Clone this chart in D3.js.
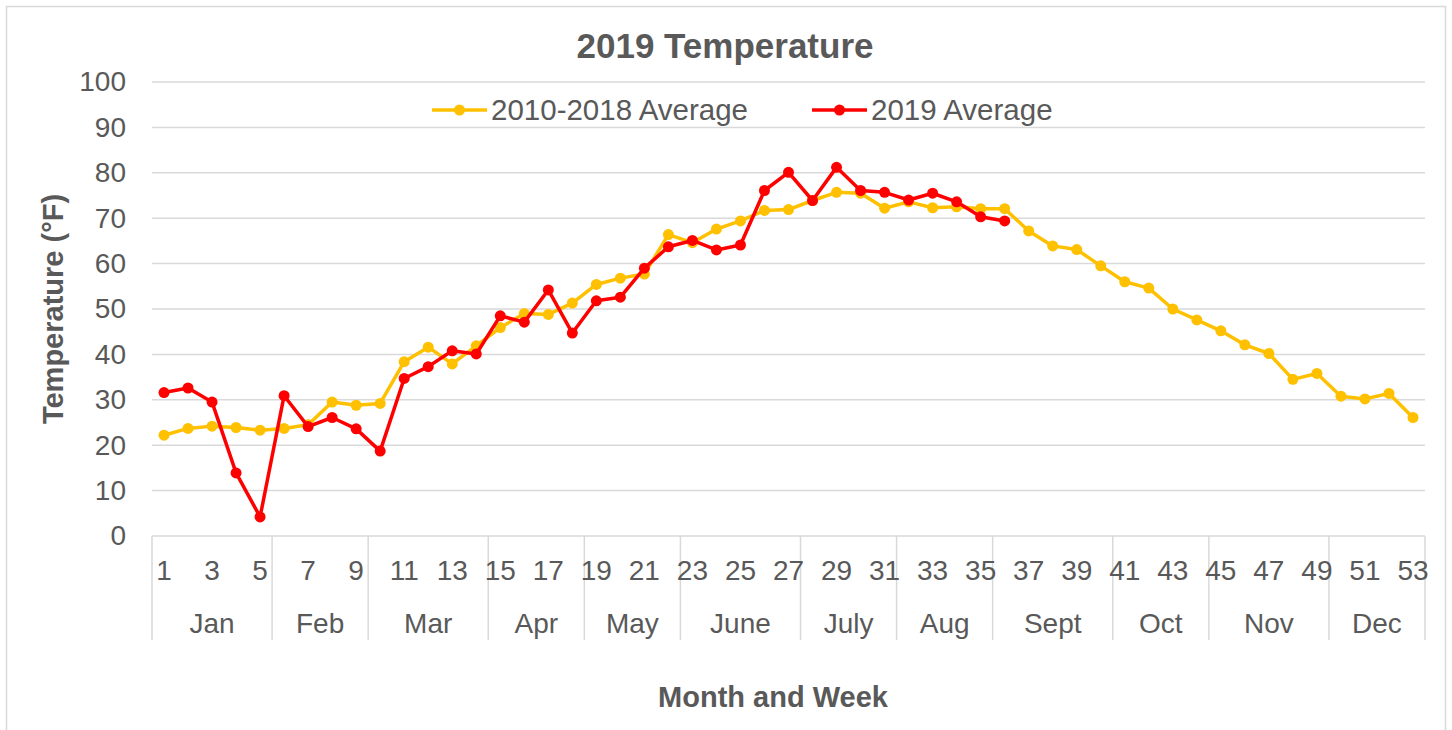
<!DOCTYPE html>
<html>
<head>
<meta charset="utf-8">
<script src="https://cdn.jsdelivr.net/npm/d3@7"></script>
<style>
  body { margin: 0; background: #fff; }
  text { font-family: "Liberation Sans", Arial, sans-serif; fill: #595959; }
</style>
</head>
<body>
<svg id="viz"></svg>
<script>
let width = 1452;
let height = 730;

// week numbers 1..53
let weeks = d3.range(1, 54);

// month groups and how many weeks each one spans
let months = ["Jan", "Feb", "Mar", "Apr", "May", "June", "July", "Aug", "Sept", "Oct", "Nov", "Dec"];
let monthWeeks = [5, 4, 5, 4, 4, 5, 4, 4, 5, 4, 5, 4];

// 2010-2018 average (all weeks)
let avgTemps = [22.2, 23.7, 24.2, 23.9, 23.3, 23.7, 24.5, 29.5, 28.8, 29.2,
    38.4, 41.6, 37.9, 41.9, 45.9, 49.0, 48.8, 51.3, 55.4, 56.8,
    57.7, 66.4, 64.6, 67.6, 69.4, 71.7, 71.9, 73.9, 75.7, 75.5,
    72.2, 73.6, 72.3, 72.5, 72.1, 72.1, 67.2, 63.9, 63.1, 59.5,
    56.0, 54.6, 50.0, 47.6, 45.2, 42.1, 40.2, 34.5, 35.8, 30.8,
    30.2, 31.4, 26.1];

// 2019 average (weeks 1-36)
let temps2019 = [31.6, 32.6, 29.5, 13.9, 4.2, 30.9, 24.1, 26.1, 23.6, 18.7,
    34.7, 37.3, 40.8, 40.1, 48.5, 47.1, 54.2, 44.7, 51.8, 52.6,
    59.0, 63.7, 65.1, 63.0, 64.1, 76.1, 80.1, 73.9, 81.2, 76.1,
    75.7, 74.0, 75.5, 73.6, 70.3, 69.4];

let yTicks = d3.range(0, 101, 10);

let series = [
    { name: "2010-2018 Average", color: "#FFC000", values: avgTemps, legendX: 432 },
    { name: "2019 Average", color: "#FF0000", values: temps2019, legendX: 812 }
];

let margin = { left: 152, right: 27, top: 82, bottom: 194 };
let gridColor = "#D9D9D9";

let svg = d3.select("#viz")
    .attr("width", width)
    .attr("height", height);

// outer chart border
svg.append("rect")
    .attr("x", 6.5).attr("y", 6.5)
    .attr("width", 1439).attr("height", 740)
    .attr("fill", "white")
    .attr("stroke", gridColor)
    .attr("stroke-width", 1.5);

let x = d3.scaleBand()
    .domain(weeks)
    .range([margin.left, width - margin.right])
    .padding(0);

let y = d3.scaleLinear()
    .domain([0, 100])
    .range([height - margin.bottom, margin.top]);

let cx = w => x(w) + x.bandwidth() / 2;

// gridlines
svg.append("g")
    .selectAll("line")
    .data(yTicks.filter(t => t > 0))
    .enter()
    .append("line")
    .attr("x1", margin.left)
    .attr("x2", width - margin.right)
    .attr("y1", d => y(d))
    .attr("y2", d => y(d))
    .attr("stroke", gridColor)
    .attr("stroke-width", 1.5);

// y axis labels
let yAxis = svg.append("g")
    .attr("transform", "translate(" + (margin.left - 26) + ",0)")
    .call(d3.axisLeft(y).tickValues(yTicks).tickSize(0).tickPadding(0));
yAxis.select(".domain").remove();
yAxis.selectAll("text")
    .attr("fill", "#595959")
    .style("font-size", "28px")
    .style("font-family", "'Liberation Sans', Arial, sans-serif");

// bottom category axis: base line + group dividers
let axisBottom = y(0);
let dividerBottom = 640;
svg.append("line")
    .attr("x1", margin.left).attr("x2", width - margin.right)
    .attr("y1", axisBottom).attr("y2", axisBottom)
    .attr("stroke", gridColor).attr("stroke-width", 1.5);

let groupStarts = [];
let acc = 0;
monthWeeks.forEach((n, i) => {
    groupStarts.push({ month: months[i], first: acc + 1, last: acc + n });
    acc += n;
});

let dividers = [weeks[0]].concat(groupStarts.map(g => g.last));
svg.append("g")
    .selectAll("line")
    .data(dividers)
    .enter()
    .append("line")
    .attr("x1", (d, i) => i == 0 ? x(d) : x(d) + x.bandwidth())
    .attr("x2", (d, i) => i == 0 ? x(d) : x(d) + x.bandwidth())
    .attr("y1", axisBottom)
    .attr("y2", dividerBottom)
    .attr("stroke", gridColor)
    .attr("stroke-width", 1.5);

// week numbers (every other week)
svg.append("g")
    .selectAll("text")
    .data(weeks.filter(w => w % 2 == 1))
    .enter()
    .append("text")
    .attr("x", d => cx(d))
    .attr("y", 580)
    .attr("text-anchor", "middle")
    .style("font-size", "28px")
    .text(d => d);

// month names
svg.append("g")
    .selectAll("text")
    .data(groupStarts)
    .enter()
    .append("text")
    .attr("x", d => (x(d.first) + x(d.last) + x.bandwidth()) / 2)
    .attr("y", 633)
    .attr("text-anchor", "middle")
    .style("font-size", "28px")
    .text(d => d.month);

// lines and markers
let line = d3.line()
    .x((d, i) => cx(weeks[i]))
    .y(d => y(d));

for (const s of series) {
    svg.append("path")
        .datum(s.values)
        .attr("d", line)
        .attr("fill", "none")
        .attr("stroke", s.color)
        .attr("stroke-width", 3.5)
        .attr("stroke-linejoin", "round");

    svg.append("g")
        .selectAll("circle")
        .data(s.values)
        .enter()
        .append("circle")
        .attr("cx", (d, i) => cx(weeks[i]))
        .attr("cy", d => y(d))
        .attr("r", 5.5)
        .attr("fill", s.color);
}

// legend
let legend = svg.append("g");
for (const s of series) {
    legend.append("line")
        .attr("x1", s.legendX).attr("x2", s.legendX + 55)
        .attr("y1", 110).attr("y2", 110)
        .attr("stroke", s.color).attr("stroke-width", 3.5);
    legend.append("circle")
        .attr("cx", s.legendX + 27.5).attr("cy", 110)
        .attr("r", 5.5).attr("fill", s.color);
    legend.append("text")
        .attr("x", s.legendX + 59)
        .attr("y", 120)
        .style("font-size", "29.5px")
        .text(s.name);
}

// title
svg.append("text")
    .attr("x", 725)
    .attr("y", 58)
    .attr("text-anchor", "middle")
    .style("font-size", "35px")
    .style("font-weight", "bold")
    .text("2019 Temperature");

// axis titles
svg.append("text")
    .attr("transform", "translate(63," + ((margin.top + axisBottom) / 2) + ") rotate(-90)")
    .attr("text-anchor", "middle")
    .style("font-size", "29px")
    .style("font-weight", "bold")
    .text("Temperature (°F)");

svg.append("text")
    .attr("x", 773)
    .attr("y", 707)
    .attr("text-anchor", "middle")
    .style("font-size", "29px")
    .style("font-weight", "bold")
    .text("Month and Week");
</script>
</body>
</html>
